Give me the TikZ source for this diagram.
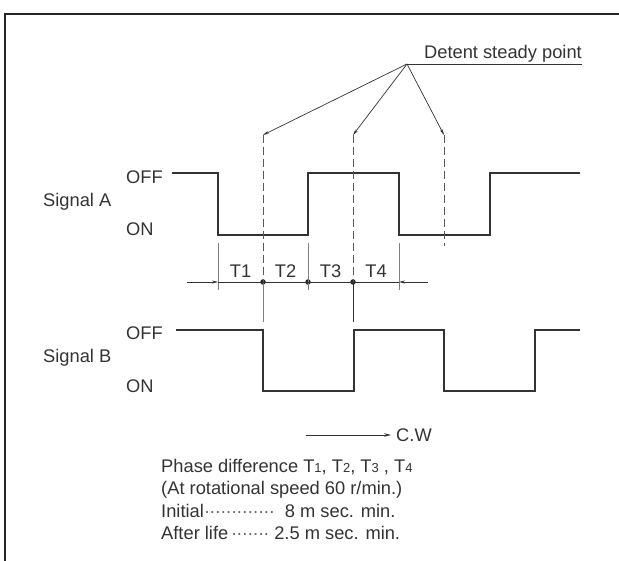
\documentclass[tikz,border=0pt]{standalone}
\usepackage{fontspec}
\setmainfont{Liberation Sans}
\usetikzlibrary{arrows.meta,positioning}

\newcommand{\tsub}[1]{{\fontsize{13}{13}\selectfont #1}}
\newcommand{\dotrun}[1]{{\color{black!60}\leaders\hbox to 5.4pt{\hss·\hss}\hskip #1\relax}}

\begin{document}
\begin{tikzpicture}[x=1pt, y=-1pt,
    lbl/.style={text=black!80, font=\fontsize{18.3}{22.3}\selectfont, inner sep=0pt},
    wave/.style={line width=1.4pt, black!80},
    thin/.style={line width=0.7pt, black!80},
    ext/.style={line width=0.7pt, black!50},
    guide/.style={line width=0.7pt, black!65, dash pattern=on 8pt off 4pt},
    pointer/.style={thin, -{Stealth[length=6pt, width=3pt]}},
    dot/.style={circle, fill=black!85, inner sep=0pt, minimum size=5.5pt}]
    \useasboundingbox (0,0) rectangle (619,561);

    % Frame
    \draw[line width=2.5pt, black!85] (619,14) -- (5,14) -- (5,561);

    % Detent steady point
    \node (detent) [lbl, anchor=base east] at (582,59) {Detent steady point};
    \coordinate (hub) at (407,64);
    \draw[thin] (hub) -- (detent.east |- hub);
    \coordinate (p1) at (263,135);
    \coordinate (p2) at (353,135);
    \coordinate (p3) at (444,135);
    \foreach \p in {p1,p2,p3}
        \draw[pointer] (hub) -- (\p);

    % Signal labels
    \node (sigA) [lbl, anchor=west] at (43,202) {Signal A};
    \node (offA) [lbl, anchor=west] at (126,177) {OFF};
    \node (onA)  [lbl, anchor=west] at (126,229) {ON};
    \node (sigB) [lbl, anchor=west] at (43,358) {Signal B};
    \node (offB) [lbl, anchor=west] at (126,333) {OFF};
    \node (onB)  [lbl, anchor=west] at (126,386) {ON};

    % Waveforms
    \draw[wave] (172,173) -| (218,235) -| (308,173) -| (399,235) -| (490,173) -- (580,173);
    \draw[wave] (176,330) -| (263,391) -| (354,330) -| (444,391) -| (535,330) -- (580,330);

    % Phase marks
    \node (m1) [dot] at (263,282) {};
    \node (m2) [dot] at (308,282) {};
    \node (m3) [dot] at (353,282) {};
    \coordinate (e3) at (444,246);
    \draw[guide] (p1) -- (m1.center);
    \draw[guide] (p2) -- (m3.center);
    \draw[guide] (p3) -- (e3);
    \draw[ext] (m1.center) -- ++(0,40);
    \draw[thin] (m3.center) -- ++(0,40);
    \foreach \x in {218,308,399}
        \draw[ext] (\x,243) -- (\x,290);

    % Dimension line
    \coordinate (dl) at (187,282);
    \coordinate (dr) at (428,282);
    \coordinate (a1) at (218,282);
    \coordinate (a2) at (399,282);
    \draw[thin] (a1) -- (a2);
    \draw[thin, -{Stealth[length=6pt, width=3pt]}] (dl) -- (a1);
    \draw[thin, -{Stealth[length=6pt, width=3pt]}] (dr) -- (a2);
    \foreach \i/\x in {1/240.5, 2/285.5, 3/330.5, 4/376}
        \node (t\i) [lbl] at (\x,271) {T\i};

    % Rotation direction
    \coordinate (cwa) at (306,435);
    \coordinate (cwb) at (391,435);
    \draw[thin, -{Stealth[length=7pt, width=3.5pt]}] (cwa) -- (cwb);
    \node (cw) [lbl, right=5pt of cwb] {C.W};

    % Notes
    \node (note) [lbl, anchor=north west, align=left] at (161,459) {%
        Phase difference T\tsub{1}, T\tsub{2}, T\tsub{3} , T\tsub{4}\\
        (At rotational speed 60 r/min.)\\
        Initial\dotrun{74pt}\hspace{7pt}8 m sec. min.\\
        After life\dotrun{41pt}\hspace{5pt}2.5 m sec. min.};
\end{tikzpicture}
\end{document}
